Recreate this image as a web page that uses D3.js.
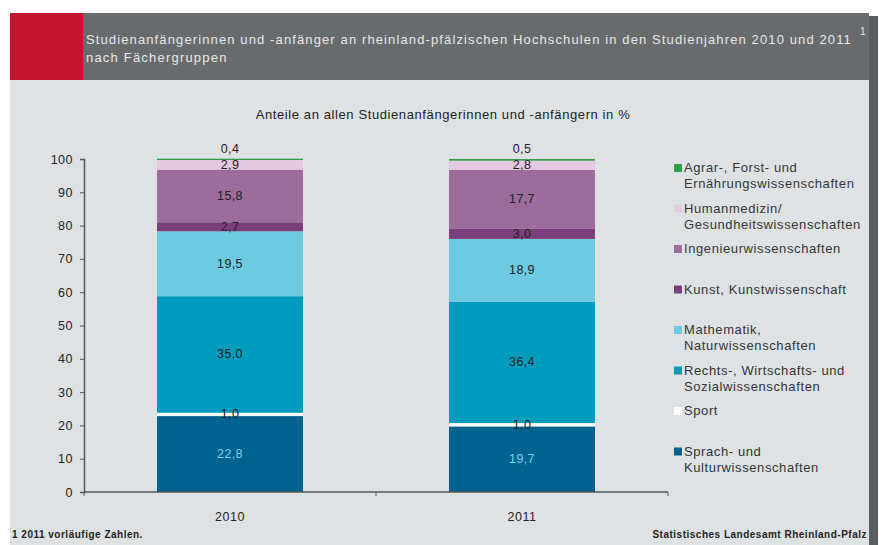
<!DOCTYPE html>
<html>
<head>
<meta charset="utf-8">
<script src="https://cdn.jsdelivr.net/npm/d3@7"></script>
<style>
  body { margin: 0; background: #fff; }
  svg { display: block; font-family: "Liberation Sans", Arial, sans-serif; }
</style>
</head>
<body>
<div id="chart"></div>
<script>
// data, bottom of the stack first
var years = ["2010", "2011"];
var groups = [
  "Sprach- und|Kulturwissenschaften",
  "Sport",
  "Rechts-, Wirtschafts- und|Sozialwissenschaften",
  "Mathematik,|Naturwissenschaften",
  "Kunst, Kunstwissenschaft",
  "Ingenieurwissenschaften",
  "Humanmedizin/|Gesundheitswissenschaften",
  "Agrar-, Forst- und|Ernährungswissenschaften"
];
var values2010 = [22.8, 1.0, 35.0, 19.5, 2.7, 15.8, 2.9, 0.4];
var values2011 = [19.7, 1.0, 36.4, 18.9, 3.0, 17.7, 2.8, 0.5];
var colors = ["#00628f", "#ffffff", "#009cbd", "#6ccbe0", "#7b3e7a", "#9c6c9c", "#e3c9e1", "#2d9e4c"];
var labelColors = ["#7fd0ea", "#222", "#222", "#222", "#222", "#222", "#222", "#222"];
var yTicks = [0, 10, 20, 30, 40, 50, 60, 70, 80, 90, 100];

var W = 885, H = 545;
var svg = d3.select("#chart").append("svg")
  .attr("width", W).attr("height", H);

// frame
svg.append("rect").attr("x", 868).attr("y", 16).attr("width", 10).attr("height", H - 16).attr("fill", "#5a5d5f");
svg.append("rect").attr("x", 10).attr("y", 13).attr("width", 859).attr("height", H - 13).attr("fill", "#dee2e4");
svg.append("rect").attr("x", 10).attr("y", 13).attr("width", 73).attr("height", 67).attr("fill", "#c4142f");
svg.append("rect").attr("x", 83).attr("y", 13).attr("width", 786).attr("height", 67).attr("fill", "#676b6d");

var header = svg.append("text").attr("fill", "#e8eaea").attr("font-size", 13).attr("letter-spacing", 1.2);
header.append("tspan").attr("x", 86).attr("y", 44)
  .attr("textLength", 766).attr("lengthAdjust", "spacing")
  .text("Studienanfängerinnen und -anfänger an rheinland-pfälzischen Hochschulen in den Studienjahren 2010 und 2011");
header.append("tspan").attr("x", 86).attr("y", 62).text("nach Fächergruppen");
svg.append("text").attr("x", 860).attr("y", 35).attr("fill", "#e8eaea").attr("font-size", 10).text("1");

svg.append("text").attr("x", 443).attr("y", 119).attr("text-anchor", "middle")
  .attr("font-size", 13).attr("letter-spacing", 0.6).attr("fill", "#222")
  .text("Anteile an allen Studienanfängerinnen und -anfängern in %");

// scales
var x = d3.scaleBand().domain(years).range([84, 668]).paddingInner(0.5).paddingOuter(0.25);
var y = d3.scaleLinear().domain([0, 100]).range([492, 159]);

var tableRows = years.map(function(yr, i) {
  var vals = i === 0 ? values2010 : values2011;
  var row = { year: yr };
  groups.forEach(function(g, j) { row[g] = vals[j]; });
  return row;
});
var series = d3.stack().keys(groups)(tableRows);
var fmt = function(v) { return d3.format(".1f")(v).replace(".", ","); };

var g = svg.append("g");
series.forEach(function(s, j) {
  g.selectAll(null).data(s).enter().append("rect")
    .attr("x", function(d) { return x(d.data.year); })
    .attr("width", x.bandwidth())
    .attr("y", function(d) { return y(d[1]); })
    .attr("height", function(d) { return y(d[0]) - y(d[1]); })
    .attr("fill", colors[j]);
});
series.forEach(function(s, j) {
  g.selectAll(null).data(s).enter().append("text")
    .attr("x", function(d) { return x(d.data.year) + x.bandwidth() / 2; })
    .attr("y", function(d) {
      if (j === groups.length - 1) return y(d[1]) - 6;
      return (y(d[0]) + y(d[1])) / 2 + 4;
    })
    .attr("text-anchor", "middle")
    .attr("font-size", 12.5)
    .attr("letter-spacing", 0.4)
    .attr("fill", labelColors[j])
    .text(function(d) { return fmt(d[1] - d[0]); });
});

// axes
var yAxis = svg.append("g").attr("transform", "translate(84,0)")
  .call(d3.axisLeft(y).tickValues(yTicks).tickSize(4).tickPadding(7));
var xAxis = svg.append("g").attr("transform", "translate(0,492)")
  .call(d3.axisBottom(x).tickSize(0).tickPadding(20));
[84, (x("2010") + x.bandwidth() + x("2011")) / 2, 668].forEach(function(t) {
  xAxis.append("line").attr("x1", t).attr("x2", t).attr("y1", 0).attr("y2", 4).attr("stroke", "#555");
});
[yAxis, xAxis].forEach(function(a) {
  a.select(".domain").attr("stroke", "#555").attr("stroke-width", 1.5);
  a.selectAll(".tick line").attr("stroke", "#555");
  a.selectAll("text").attr("font-size", 12.5).attr("letter-spacing", 0.5).attr("fill", "#222")
    .attr("font-family", "Liberation Sans, Arial, sans-serif");
});
xAxis.select(".domain").attr("d", "M84,0H668");

// legend, top item first
var legend = svg.append("g");
groups.slice().reverse().forEach(function(name, i) {
  var j = groups.length - 1 - i;
  var ly = 172 + i * 40.5;
  legend.append("rect").attr("x", 674).attr("y", ly - 8).attr("width", 8).attr("height", 8).attr("fill", colors[j]);
  var t = legend.append("text").attr("font-size", 13).attr("letter-spacing", 0.6).attr("fill", "#333");
  name.split("|").forEach(function(line, k) {
    t.append("tspan").attr("x", 684).attr("y", ly + k * 16).text(line);
  });
});

// footer
svg.append("text").attr("x", 12).attr("y", 538).attr("font-size", 10).attr("letter-spacing", 0.5)
  .attr("font-weight", "bold").attr("fill", "#222")
  .text("1 2011 vorläufige Zahlen.");
svg.append("text").attr("x", 867).attr("y", 538).attr("text-anchor", "end").attr("font-size", 10)
  .attr("letter-spacing", 0.5).attr("font-weight", "bold").attr("fill", "#222")
  .text("Statistisches Landesamt Rheinland-Pfalz");
</script>
</body>
</html>
